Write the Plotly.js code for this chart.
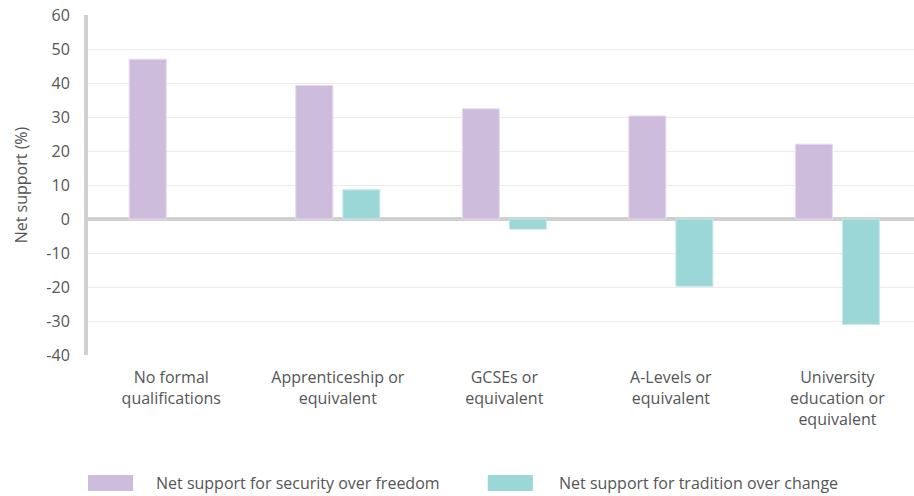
<!DOCTYPE html>
<html>
<head>
<meta charset="utf-8">
<script src="https://cdn.plot.ly/plotly-3.0.1.min.js"></script>
<style>html,body{margin:0;padding:0;background:#fff;}#chart{width:914px;height:496px;}</style>
</head>
<body>
<div id="chart"></div>
<script>
const categories = ["No formal<br>qualifications", "Apprenticeship or<br>equivalent", "GCSEs or<br>equivalent", "A-Levels or<br>equivalent", "University<br>education or<br>equivalent"];
const seriesNames = ["Net support for security over freedom", "Net support for tradition over change"];
const securityOverFreedom = [47, 39.3, 32.4, 30.3, 22];
const traditionOverChange = [null, 8.6, -3, -19.8, -31];
const yTicks = [-40, -30, -20, -10, 0, 10, 20, 30, 40, 50, 60];
const colors = ["#cdbcdc", "#9cd7d7"];
const fontFam = "'Open Sans', sans-serif";

const traces = [
  {type: "bar", name: seriesNames[0], x: categories, y: securityOverFreedom,
   marker: {color: colors[0], line: {color: "#e4dbee", width: 1}}, hoverinfo: "y"},
  {type: "bar", name: seriesNames[1], x: categories, y: traditionOverChange,
   marker: {color: colors[1], line: {color: "#c6eaea", width: 1}}, hoverinfo: "y"}
];

// custom legend (wide swatches)
const legX = [0, 0.484];
const textX = [0.0799, 0.5678];
const shapes = seriesNames.map((n, i) => ({
  type: "rect", xref: "paper", yref: "paper",
  x0: legX[i], x1: legX[i] + 0.0546, y0: -0.4, y1: -0.353,
  fillcolor: colors[i], line: {width: 0}
}));
const annotations = seriesNames.map((n, i) => ({
  xref: "paper", yref: "paper", x: textX[i], y: -0.376,
  xanchor: "left", yanchor: "middle", showarrow: false, text: n,
  font: {family: fontFam, size: 16, color: "#555"}
}));

const layout = {
  width: 914, height: 496,
  margin: {l: 88, r: 0, t: 15, b: 141, pad: 0},
  paper_bgcolor: "#fff", plot_bgcolor: "#fff",
  barmode: "group", bargap: 0.435, bargroupgap: 0.213,
  showlegend: false,
  font: {family: fontFam, size: 16, color: "#555"},
  xaxis: {
    type: "category", range: [-0.5, 4.46],
    showgrid: false, showline: false, ticks: "", zeroline: false,
    tickfont: {family: fontFam, size: 16, color: "#555"},
    ticklabelstandoff: 11, fixedrange: true
  },
  yaxis: {
    range: [-40, 60], tickvals: yTicks, ticktext: yTicks.map(String),
    showgrid: true, gridcolor: "#ebebeb", gridwidth: 1,
    zeroline: true, zerolinecolor: "#d0d0d0", zerolinewidth: 4,
    showline: true, linecolor: "#d0d0d0", linewidth: 4,
    ticks: "", tickfont: {family: fontFam, size: 16, color: "#555"},
    ticklabelstandoff: 11,
    title: {text: "Net support (%)", standoff: 16, font: {family: fontFam, size: 16, color: "#555"}},
    fixedrange: true
  },
  shapes: shapes,
  annotations: annotations
};

Plotly.newPlot("chart", traces, layout, {displayModeBar: false, staticPlot: true});
</script>
</body>
</html>
